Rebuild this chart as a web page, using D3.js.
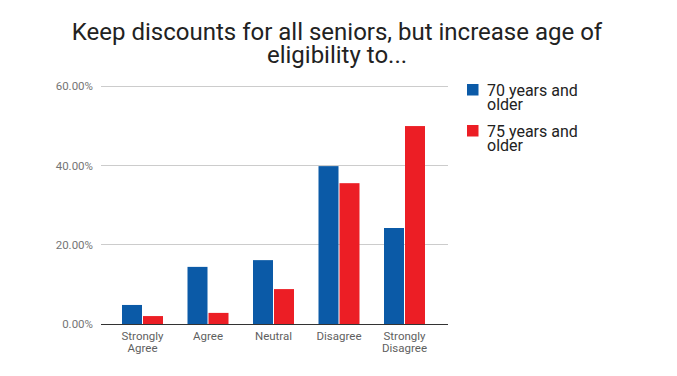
<!DOCTYPE html>
<html><head><meta charset="utf-8">
<script src="https://cdn.jsdelivr.net/npm/d3@7"></script>
<style>body{margin:0;background:#fff;}svg{display:block;font-family:Roboto,sans-serif;}</style>
</head><body>
<svg id="chart" width="677" height="376"></svg>
<script>
const categories = [["Strongly","Agree"],["Agree"],["Neutral"],["Disagree"],["Strongly","Disagree"]];
const seriesNames = [["70 years and","older"],["75 years and","older"]];
const series70 = [4.8, 14.4, 16.1, 39.8, 24.2];
const series75 = [2.0, 2.8, 8.8, 35.5, 49.9];
const yTicks = [0, 20, 40, 60];
const colors = ["#0b5aa7","#ec1e25"];
const titleLines = ["Keep discounts for all seniors, but increase age of","eligibility to..."];

const svg = d3.select("#chart");
const plotL = 101, plotR = 448, plotT = 86, plotB = 324;

const y = d3.scaleLinear().domain([0,60]).range([plotB, plotT]);
const x = d3.scaleBand().domain(d3.range(categories.length)).range([109.75, 437.25]).paddingInner(0).paddingOuter(0);
const bw = 20, gap = 1;

// title
const title = svg.append("text").attr("x",337).attr("y",40).attr("text-anchor","middle")
  .attr("font-size",24).attr("fill","#222");
titleLines.forEach((t,i)=>title.append("tspan").attr("x",337).attr("dy", i?23:0).text(t));

// gridlines
svg.append("g").selectAll("line").data(yTicks.filter(d=>d>0)).join("line")
  .attr("x1",plotL).attr("x2",plotR).attr("y1",d=>y(d)).attr("y2",d=>y(d))
  .attr("stroke","#cccccc").attr("stroke-width",1).attr("shape-rendering","crispEdges");

// y axis labels
const yAxis = d3.axisLeft(y).tickValues(yTicks).tickSize(0).tickPadding(8).tickFormat(d=>d.toFixed(2)+"%");
const ga = svg.append("g").attr("transform",`translate(${plotL},0)`).call(yAxis);
ga.select(".domain").remove();
ga.selectAll("text").attr("font-family","Roboto,sans-serif").attr("font-size",11.5).attr("fill","#757575");

// bars
const data = [series70, series75];
data.forEach((s,si)=>{
  svg.append("g").selectAll("rect").data(s).join("rect")
    .attr("x",(d,i)=>x(i)+x.bandwidth()/2 - bw - gap/2 + si*(bw+gap))
    .attr("y",d=>y(d)).attr("width",bw).attr("height",d=>plotB-y(d))
    .attr("fill",colors[si]);
});

// baseline
svg.append("line").attr("x1",plotL).attr("x2",plotR).attr("y1",plotB+0.5).attr("y2",plotB+0.5)
  .attr("stroke","#333").attr("stroke-width",1);

// x labels
const xl = svg.append("g").selectAll("text").data(categories).join("text")
  .attr("text-anchor","middle").attr("font-size",11.5).attr("fill","#5f5f5f")
  .attr("transform",(d,i)=>`translate(${x(i)+x.bandwidth()/2},340)`);
xl.each(function(d){
  const t = d3.select(this);
  d.forEach((l,j)=>t.append("tspan").attr("x",0).attr("dy",j?12:0).text(l));
});

// legend
const lg = svg.append("g");
seriesNames.forEach((n,i)=>{
  const oy = 84 + i*41;
  lg.append("rect").attr("x",467).attr("y",oy).attr("width",11.5).attr("height",11.5).attr("fill",colors[i]);
  const t = lg.append("text").attr("x",487).attr("y",oy+11.7).attr("font-size",16).attr("fill","#222");
  n.forEach((l,j)=>t.append("tspan").attr("x",487).attr("dy",j?14.5:0).text(l));
});
</script>
</body></html>
